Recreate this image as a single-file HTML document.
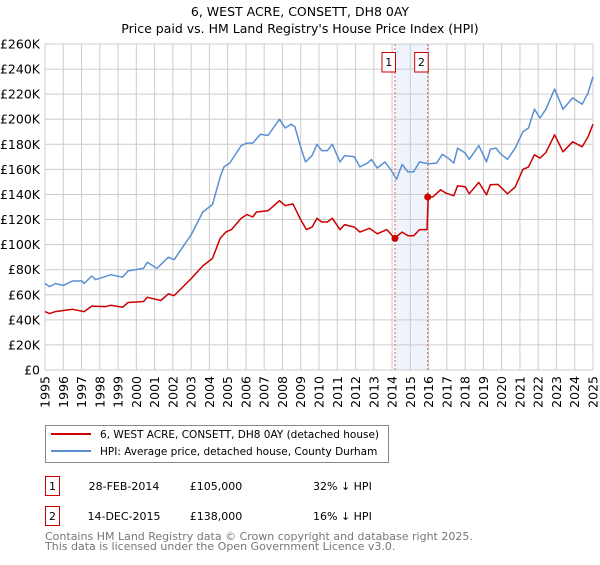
<!DOCTYPE html>
<html><head><meta charset="utf-8"><style>
body{margin:0;background:#fff;font-family:"Liberation Sans","DejaVu Sans",sans-serif;}
svg text{font-family:"DejaVu Sans","Liberation Sans",sans-serif;}
</style></head><body>
<svg id="c" width="600" height="560" xmlns="http://www.w3.org/2000/svg">
<text x="300" y="16" text-anchor="middle" font-size="12.5" fill="#000">6, WEST ACRE, CONSETT, DH8 0AY</text>
<text x="300" y="33" text-anchor="middle" font-size="12.5" fill="#000">Price paid vs. HM Land Registry's House Price Index (HPI)</text>
<g id="grid"></g><g id="axes"></g><g id="series"></g>
<g>
<rect x="45.5" y="425.5" width="343" height="37" fill="#fff" stroke="#888"/>
<line x1="51" y1="434" x2="91" y2="434" stroke="#cc0000" stroke-width="2"/>
<text x="100" y="438" font-size="10.5">6, WEST ACRE, CONSETT, DH8 0AY (detached house)</text>
<line x1="51" y1="451" x2="91" y2="451" stroke="#5b8fd4" stroke-width="2"/>
<text x="100" y="455" font-size="10.5">HPI: Average price, detached house, County Durham</text>
</g>
<g font-size="11">
<rect x="45.5" y="476.5" width="14" height="19" fill="none" stroke="#cc0000"/>
<text x="52.5" y="490" text-anchor="middle">1</text>
<text x="124" y="490" text-anchor="middle">28-FEB-2014</text>
<text x="216" y="490" text-anchor="middle">£105,000</text>
<text x="313" y="490">32% ↓ HPI</text>
<rect x="45.5" y="506.5" width="14" height="19" fill="none" stroke="#cc0000"/>
<text x="52.5" y="520" text-anchor="middle">2</text>
<text x="124" y="520" text-anchor="middle">14-DEC-2015</text>
<text x="216" y="520" text-anchor="middle">£138,000</text>
<text x="313" y="520">16% ↓ HPI</text>
</g>
<text x="45" y="540" font-size="11" fill="#777">Contains HM Land Registry data © Crown copyright and database right 2025.</text>
<text x="45" y="550" font-size="11" fill="#777">This data is licensed under the Open Government Licence v3.0.</text>
</svg>
<script>
const hpiYears=[1995.00,1995.25,1995.57,1995.99,1996.51,1997.03,1997.14,1997.56,1997.77,1998.61,1999.24,1999.55,2000.39,2000.60,2001.13,2001.75,2002.07,2003.01,2003.64,2004.17,2004.59,2004.80,2005.11,2005.74,2006.06,2006.37,2006.79,2007.21,2007.84,2008.15,2008.47,2008.68,2008.99,2009.26,2009.62,2009.89,2010.15,2010.46,2010.73,2011.15,2011.40,2011.93,2012.24,2012.66,2012.87,2013.19,2013.61,2013.92,2014.24,2014.55,2014.87,2015.18,2015.50,2015.81,2016.02,2016.44,2016.75,2017.07,2017.38,2017.59,2018.01,2018.22,2018.75,2019.17,2019.38,2019.69,2019.90,2020.32,2020.74,2021.16,2021.47,2021.79,2022.10,2022.42,2022.90,2023.36,2023.89,2024.41,2024.73,2025.00];
const hpiValues=[69,66.5,69,67.5,71,71,69,75,72,76,74,79,81,86,81,90,88,108,126,132,154,162,165,179,181,181,188,187,200,193,196,194,178,166,171,180,175,175,180,166,171,170,162,165,168,161,166,160,152,164,158,158,166,165,164.5,165,172,169,165,177,173,168,179,166,176,177,173,168,177,190,193,208,201,208,224,208,217,212,221,234];
const ppYears=[1995.00,1995.25,1995.57,1996.51,1997.14,1997.56,1998.30,1998.61,1999.24,1999.55,2000.39,2000.60,2001.34,2001.75,2002.07,2003.01,2003.64,2004.17,2004.59,2004.90,2005.21,2005.74,2006.06,2006.37,2006.58,2007.21,2007.84,2008.15,2008.57,2008.99,2009.31,2009.62,2009.89,2010.15,2010.46,2010.73,2011.15,2011.40,2011.93,2012.24,2012.77,2013.19,2013.71,2013.92,2014.13,2014.55,2014.87,2015.18,2015.50,2015.81,2015.91,2015.98,2016.23,2016.65,2016.96,2017.38,2017.59,2018.01,2018.22,2018.75,2019.17,2019.38,2019.80,2020.32,2020.74,2021.16,2021.47,2021.79,2022.10,2022.42,2022.90,2023.36,2023.89,2024.41,2024.73,2025.00];
const ppValues=[46.6,45,46.6,48.4,46.6,51,50.6,51.6,50,53.8,54.6,58,55.4,60.7,59.3,73,83,89,105,110,112,121,124,122,126,127,135,131,132.5,120,112,114,121,118,118,121,112,116,114,110,113,108.6,112,108.6,105,110,107,107,112,112,112,138,138,143.7,141,139,147,146,140.5,149.6,139.7,147.7,148,140.5,146,160,162,171.6,169,173.5,187.6,174,182,178,186,196];
const saleYears=[2014.16,2015.95];
const saleValues=[105,138];
const saleLabels=["1","2"];
const yTicks=[0,20,40,60,80,100,120,140,160,180,200,220,240,260];
const xTicks=[1995,1996,1997,1998,1999,2000,2001,2002,2003,2004,2005,2006,2007,2008,2009,2010,2011,2012,2013,2014,2015,2016,2017,2018,2019,2020,2021,2022,2023,2024,2025];
const NS="http://www.w3.org/2000/svg";
const L=45,R=593,T=44,B=370;
const xs=y=>L+(y-1995)/30*(R-L);
const ys=v=>B-v/260*(B-T);
function mk(tag,attrs,parent){const e=document.createElementNS(NS,tag);for(const k in attrs)e.setAttribute(k,attrs[k]);parent.appendChild(e);return e;}
const grid=document.getElementById('grid'),axes=document.getElementById('axes'),ser=document.getElementById('series');
const sh=mk('rect',{x:xs(saleYears[0]),y:T,width:xs(saleYears[1])-xs(saleYears[0]),height:B-T,fill:'#eef3fc'},grid);


yTicks.forEach(v=>{
  const l=mk('line',{x1:L,x2:R,y1:ys(v),y2:ys(v),stroke:'#ccc','stroke-width':1},grid);
  
  
  const t=mk('text',{x:L-5,y:ys(v)+4.5,'text-anchor':'end','font-size':12.5},axes);
  t.textContent=v===0?'£0':'£'+v+'K';
  
  
});
xTicks.forEach(yr=>{
  const l=mk('line',{x1:xs(yr),x2:xs(yr),y1:T,y2:B,stroke:'#ccc','stroke-width':1},grid);
  
  
  const x=xs(yr)+4.5,y=B+6;
  const t=mk('text',{x:x,y:y,'text-anchor':'end','font-size':12.5,transform:`rotate(-90 ${x} ${y})`},axes);
  t.textContent=yr;
  
  
});
saleYears.forEach((yr,i)=>{
  const l=mk('line',{x1:xs(yr),x2:xs(yr),y1:T,y2:B,stroke:'#e06060','stroke-width':1,'stroke-dasharray':'2,2'},grid);
  
  
  const r=mk('rect',{x:xs(yr)-13,y:52.5,width:13.5,height:19.5,fill:'#fff',stroke:'#cc0000'},ser);
  
  
  const t=mk('text',{x:xs(yr)-6.3,y:66,'text-anchor':'middle','font-size':11},ser);
  t.textContent=saleLabels[i];
  
  
});
function path(xa,va,color,name){
  const d=xa.map((x,i)=>(i?'L':'M')+xs(x).toFixed(1)+','+ys(va[i]).toFixed(1)).join('');
  const p=mk('path',{d:d,fill:'none',stroke:color,'stroke-width':1.5,'stroke-linejoin':'round'},ser);
  
  
}
path(hpiYears,hpiValues,'#5b8fd4','hpi-line');
path(ppYears,ppValues,'#cc0000','property-price-line');
saleYears.forEach((yr,i)=>{
  const c=mk('circle',{cx:xs(yr),cy:ys(saleValues[i]),r:3.5,fill:'#cc0000'},ser);
  
  
});
</script>
</body></html>
